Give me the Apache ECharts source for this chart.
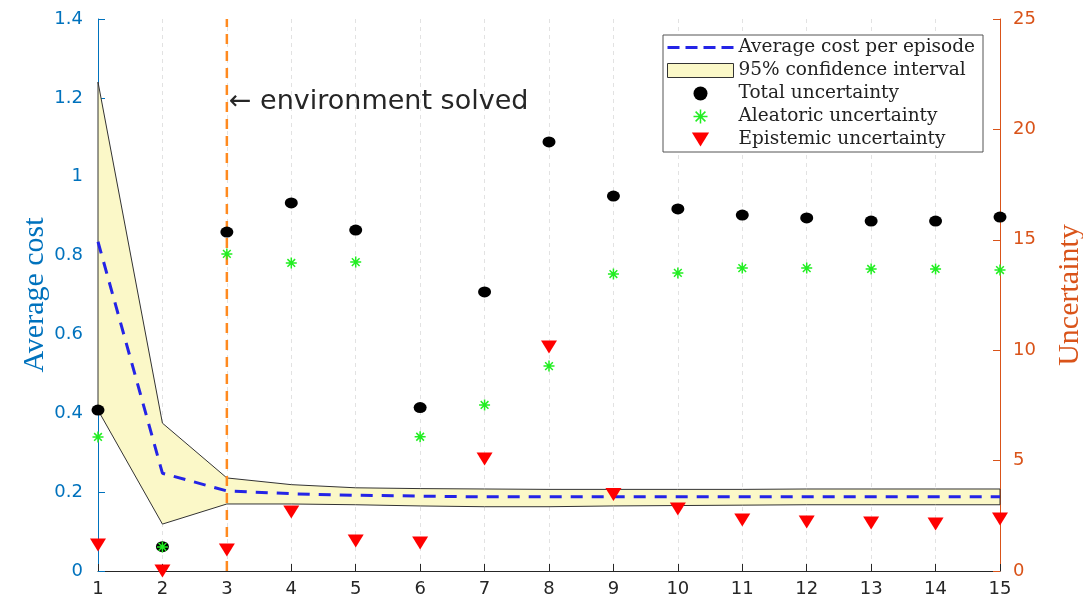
<!DOCTYPE html>
<html><head><meta charset="utf-8">
<script src="https://cdn.jsdelivr.net/npm/echarts@6/dist/echarts.min.js"></script>
<style>html,body{margin:0;padding:0;background:#fff}#c{width:1083px;height:605px}</style>
</head><body><div id="c"></div>
<script>
const episodes = [1, 2, 3, 4, 5, 6, 7, 8, 9, 10, 11, 12, 13, 14, 15];
const meanCost = [0.835, 0.248, 0.203, 0.196, 0.192, 0.19, 0.188, 0.188, 0.188, 0.188, 0.188, 0.188, 0.188, 0.188, 0.188];
const ciUpper = [1.24, 0.375, 0.236, 0.219, 0.211, 0.209, 0.208, 0.207, 0.207, 0.207, 0.207, 0.208, 0.208, 0.208, 0.208];
const ciLower = [0.408, 0.119, 0.17, 0.17, 0.168, 0.165, 0.163, 0.163, 0.165, 0.166, 0.167, 0.168, 0.168, 0.168, 0.168];
const totalUnc = [7.29, 1.1, 15.35, 16.67, 15.44, 7.4, 12.64, 19.43, 16.98, 16.4, 16.12, 15.99, 15.85, 15.85, 16.03];
const aleatoricUnc = [6.07, 1.09, 14.36, 13.95, 13.99, 6.08, 7.52, 9.28, 13.45, 13.5, 13.72, 13.72, 13.68, 13.68, 13.63];
const epistemicUnc = [1.18, 0.0, 0.95, 2.67, 1.36, 1.27, 5.07, 10.14, 3.47, 2.81, 2.31, 2.22, 2.17, 2.13, 2.35];
const solvedEpisode = 3;
const solvedLabelY = 1.2;
const costRange = [0, 1.4];
const uncRange = [0, 25];

const zip = (ys) => episodes.map((x, i) => [x, ys[i]]);
const BLUE = '#0072BD', ORANGE = '#D95319', DARK = '#262626';
const asterisk = 'path://M10 0L10 20M0 10L20 10M3 3L17 17M3 17L17 3';
const dashIcon = 'path://M0 6H12V9H0ZM18 6H30V9H18ZM36 6H48V9H36ZM54 6H66V9H54Z';
const triDown = 'path://M0 0L16 0L8 13Z';

const chart = echarts.init(document.getElementById('c'));
chart.setOption({
  animation: false,
  backgroundColor: '#fff',
  grid: { left: 98, right: 83, top: 19, bottom: 34, containLabel: false, outerBoundsMode: 'none' },
  legend: {
    orient: 'vertical', left: 663, top: 35,
    backgroundColor: '#fff', borderColor: '#555', borderWidth: 1,
    padding: [3, 8, 3, 4], itemWidth: 66, itemHeight: 14, itemGap: 4,
    symbolKeepAspect: true,
    textStyle: { fontFamily: 'DejaVu Serif', fontSize: 18.5, color: '#222' },
    data: [
      { name: 'Average cost per episode', icon: dashIcon, itemStyle: { color: '#2424E6' } },
      { name: '95% confidence interval', icon: 'rect', itemStyle: { color: '#FBF8C8', borderColor: '#333', borderWidth: 1 } },
      { name: 'Total uncertainty', icon: 'circle' },
      { name: 'Aleatoric uncertainty', itemStyle: { borderColor: '#22EE22', borderWidth: 1.5 } },
      { name: 'Epistemic uncertainty', icon: triDown }
    ]
  },
  xAxis: {
    type: 'value', min: 1, max: 15, interval: 1,
    axisLine: { onZero: false, lineStyle: { color: DARK, width: 1 } },
    axisTick: { inside: true, length: 7, lineStyle: { color: DARK } },
    axisLabel: { color: DARK, fontSize: 18, fontFamily: 'DejaVu Sans', margin: 9 },
    splitLine: { show: true, lineStyle: { color: '#E2E2E2', type: [4, 4] } }
  },
  yAxis: [
    {
      type: 'value', min: costRange[0], max: costRange[1], interval: 0.2, position: 'left',
      name: 'Average cost', nameLocation: 'middle', nameGap: 48, nameRotate: 90, nameMoveOverlap: false,
      nameTextStyle: { color: BLUE, fontFamily: 'Liberation Serif', fontSize: 30 },
      axisLine: { show: true, lineStyle: { color: BLUE } },
      axisTick: { show: true, inside: true, length: 7, lineStyle: { color: BLUE } },
      axisLabel: { color: BLUE, fontSize: 18, fontFamily: 'DejaVu Sans', margin: 15 },
      splitLine: { show: false }
    },
    {
      type: 'value', min: uncRange[0], max: uncRange[1], interval: 5, position: 'right',
      name: 'Uncertainty', nameLocation: 'middle', nameGap: 55, nameRotate: 90, nameMoveOverlap: false,
      nameTextStyle: { color: ORANGE, fontFamily: 'Liberation Serif', fontSize: 30 },
      axisLine: { show: true, lineStyle: { color: ORANGE } },
      axisTick: { show: true, inside: true, length: 7, lineStyle: { color: ORANGE } },
      axisLabel: { color: ORANGE, fontSize: 18, fontFamily: 'DejaVu Sans', margin: 13 },
      splitLine: { show: false }
    }
  ],
  series: [
    {
      name: '95% confidence interval', type: 'custom', yAxisIndex: 0, z: 2,
      data: [[episodes[0], ciLower[0]]],
      encode: { x: 0, y: 1 },
      itemStyle: { color: '#FBF8C8' },
      renderItem: function (params, api) {
        const pts = [];
        for (let i = 0; i < episodes.length; i++) pts.push(api.coord([episodes[i], ciUpper[i]]));
        for (let i = episodes.length - 1; i >= 0; i--) pts.push(api.coord([episodes[i], ciLower[i]]));
        return { type: 'polygon', shape: { points: pts }, style: { fill: '#FBF8C8', stroke: '#333', lineWidth: 1 } };
      }
    },
    {
      name: 'Average cost per episode', type: 'line', yAxisIndex: 0, z: 3,
      data: zip(meanCost), symbol: 'none',
      itemStyle: { color: '#2424E6' },
      lineStyle: { color: '#2424E6', width: 3, type: [12, 9] }
    },
    {
      name: 'solved', type: 'line', yAxisIndex: 0, z: 4,
      data: [[solvedEpisode, costRange[0]], [solvedEpisode, costRange[1]]],
      symbol: 'none', silent: true,
      lineStyle: { color: '#FF8A1F', width: 2.5, type: [10, 7] }
    },
    {
      name: 'annotation', type: 'scatter', yAxisIndex: 0, z: 5,
      data: [[solvedEpisode, solvedLabelY]], symbolSize: 0, silent: true,
      itemStyle: { opacity: 1 },
      label: { show: true, position: 'right', distance: 2, offset: [0, 4], formatter: '\u2190 environment solved',
        color: DARK, opacity: 1, fontSize: 27, fontFamily: 'DejaVu Sans' }
    },
    {
      name: 'Total uncertainty', type: 'scatter', yAxisIndex: 1, z: 6,
      data: zip(totalUnc), symbol: 'circle', symbolSize: [13, 11],
      itemStyle: { color: '#000', opacity: 1 }
    },
    {
      name: 'Aleatoric uncertainty', type: 'scatter', yAxisIndex: 1, z: 7,
      data: zip(aleatoricUnc), symbol: asterisk, symbolSize: 11,
      itemStyle: { color: '#22EE22', borderColor: '#22EE22', borderWidth: 1.5, opacity: 1 }
    },
    {
      name: 'Epistemic uncertainty', type: 'scatter', yAxisIndex: 1, z: 6,
      data: zip(epistemicUnc), symbol: 'triangle', symbolRotate: 180, symbolSize: [16, 13],
      itemStyle: { color: '#FF0000', opacity: 1 }
    }
  ]
});
</script></body></html>
